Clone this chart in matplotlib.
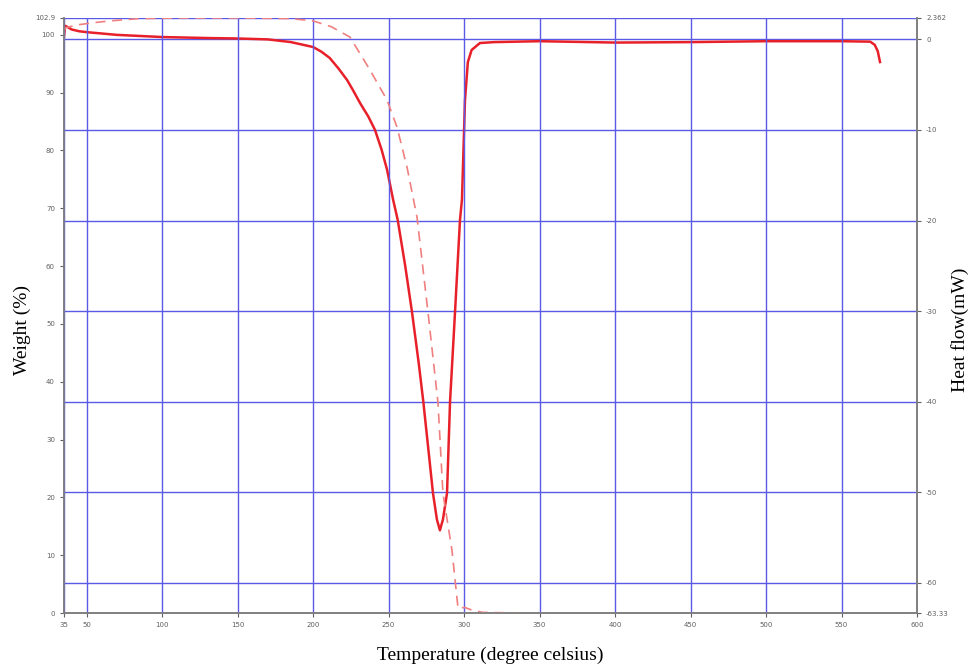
import matplotlib
matplotlib.use("Agg")
import matplotlib.pyplot as plt

# Heat flow (DSC, solid) on right axis
hf_temp = [35, 35.7, 37, 40, 45, 50, 70, 100, 130, 150, 170, 185, 200, 205.5, 211,
           216.7, 222.5, 226.6, 231, 236.6, 241, 245.4, 249, 253, 256, 261, 265.5, 270,
           273, 277, 279.4, 282, 284, 286, 288.7, 290.7, 294, 297.3, 298.6, 300.6,
           302.5, 305, 310.5, 320, 350, 400, 450, 500, 550, 569, 572, 574, 575.5]
hf_val = [0.3, 1.5, 1.4, 1.1, 0.9, 0.8, 0.5, 0.26, 0.15, 0.10, 0.0, -0.29, -0.84, -1.36,
          -2.05, -3.19, -4.48, -5.66, -7.0, -8.53, -10.0, -12.2, -14.4, -17.7, -19.9,
          -25.0, -30.1, -35.8, -40.0, -46.3, -50.1, -53.0, -54.2, -53.0, -50.1, -40.0,
          -30.1, -19.9, -17.7, -6.7, -2.5, -1.17, -0.4, -0.3, -0.2, -0.35, -0.3, -0.2,
          -0.2, -0.25, -0.6, -1.3, -2.5]

# Weight (TGA, dashed) on left axis
w_temp = [35, 36, 43.6, 55, 65.5, 85, 112, 150, 185, 200, 212, 224.4, 237.7, 249,
          255.6, 262.2, 268.8, 276.1, 282.7, 286, 292, 296, 298, 300.6, 305.9, 312.5,
          325, 343.7]
w_val = [100.8, 101.2, 101.7, 102.1, 102.4, 102.8, 102.9, 102.9, 102.8, 102.4, 101.4,
         99.6, 93.9, 88.7, 84.0, 77.1, 68.5, 52.0, 36.4, 20.7, 10.8, 0.8, 0.9, 0.95,
         0.43, 0.1, 0.05, 0.0]

x_ticks = [35, 50, 100, 150, 200, 250, 300, 350, 400, 450, 500, 550, 600]
x_ticklabels = ["35", "50", "100", "150", "200", "250", "300", "350", "400", "450",
                "500", "550", "600"]
w_ticks = [0, 10, 20, 30, 40, 50, 60, 70, 80, 90, 100, 102.9]
w_ticklabels = ["0", "10", "20", "30", "40", "50", "60", "70", "80", "90", "100", "102.9"]
hf_ticks = [-63.33, -60, -50, -40, -30, -20, -10, 0, 2.362]
hf_ticklabels = ["-63.33", "-60", "-50", "-40", "-30", "-20", "-10", "0", "2.362"]

fig = plt.figure(figsize=(9.7, 6.7), dpi=100)
ax = fig.add_axes([64/970, 57/670, (917-64)/970, (613-18)/670])
ax2 = ax.twinx()
ax.set_zorder(ax2.get_zorder() + 1)
ax.patch.set_visible(False)

grid_c = "#5a5ae6"
spine_c = "#808080"
tick_c = "#606060"

ax.set_xlim(35, 600)
ax.set_ylim(0, 102.9)
ax2.set_ylim(-63.33, 2.362)

ax.set_xticks(x_ticks)
ax.set_xticklabels(x_ticklabels)
ax.set_yticks(w_ticks)
ax.set_yticklabels(w_ticklabels)
ax2.set_yticks(hf_ticks)
ax2.set_yticklabels(hf_ticklabels)

ax.xaxis.grid(True, color=grid_c, lw=1.0)
ax2.yaxis.grid(True, color=grid_c, lw=1.0)

for a in (ax, ax2):
    a.spines["top"].set_visible(False)
    for s in ("left", "right", "bottom"):
        a.spines[s].set_color(spine_c)
        a.spines[s].set_linewidth(1.2)
    a.tick_params(labelsize=5, colors=tick_c, length=3, width=0.8)

ax2.plot(hf_temp, hf_val, color="#e8202a", lw=1.8, solid_joinstyle="round")
ax.plot(w_temp, w_val, color="#f08080", lw=1.2, dashes=(6, 4))

serif = ["Liberation Serif", "DejaVu Serif"]
fig.text(490/970, 1 - 655/670, "Temperature (degree celsius)", ha="center", va="center",
         fontsize=14, family=serif)
fig.text(22/970, 1 - 330/670, "Weight (%)", ha="center", va="center", rotation=90,
         fontsize=14, family=serif)
fig.text(960/970, 1 - 330/670, "Heat flow(mW)", ha="center", va="center", rotation=90,
         fontsize=14, family=serif)

fig.savefig("out.png", dpi=100, facecolor="white")
